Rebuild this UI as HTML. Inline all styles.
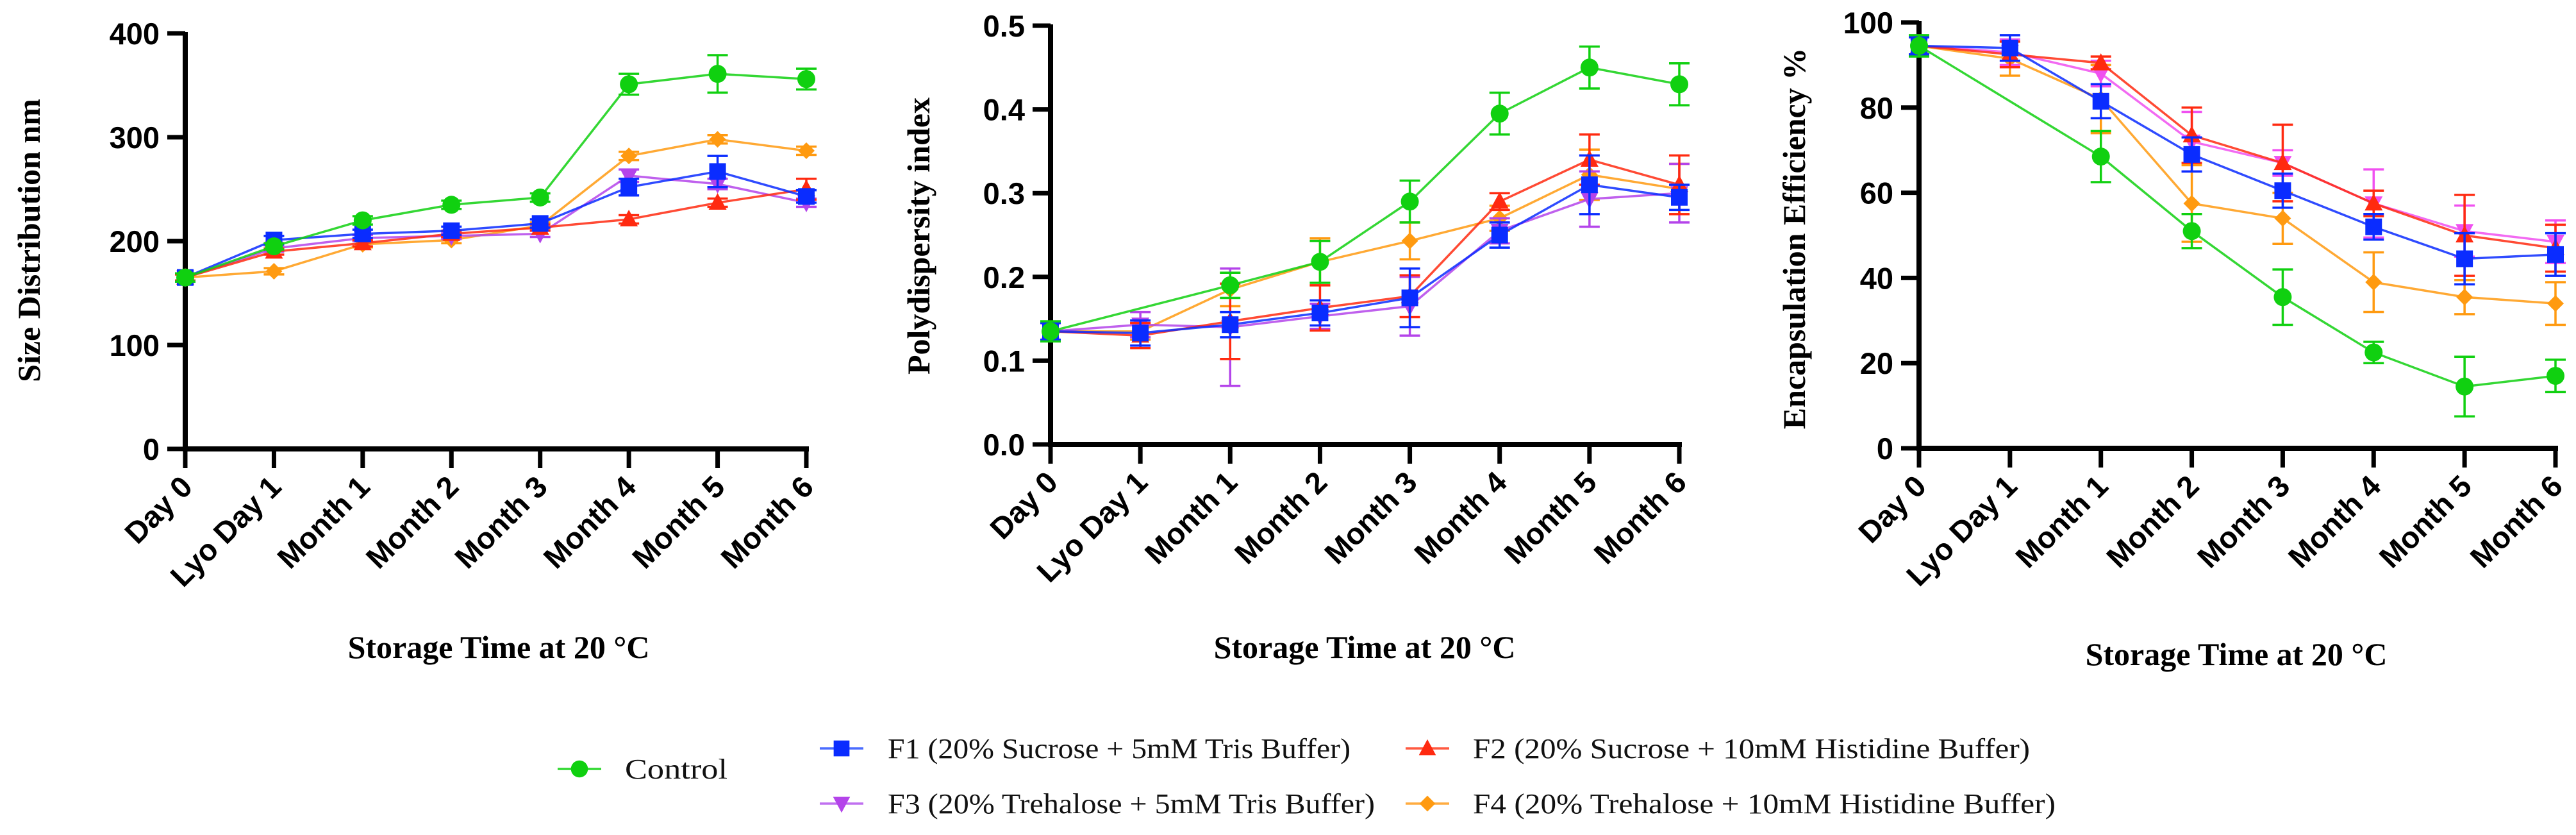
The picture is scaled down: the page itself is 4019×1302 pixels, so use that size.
<!DOCTYPE html>
<html><head><meta charset="utf-8"><style>
html,body{margin:0;padding:0;background:#fff;}
svg{display:block;}
.tick{font-family:"Liberation Sans",Arial,sans-serif;font-weight:bold;font-size:47px;fill:#000;}
.title{font-family:"Liberation Serif",serif;font-weight:bold;font-size:50px;fill:#000;}
.leg{font-family:"Liberation Serif",serif;font-size:44px;fill:#111;}
</style></head><body>
<svg id="fig" width="4019" height="1302" viewBox="0 0 4019 1302" xmlns="http://www.w3.org/2000/svg">
<g id="panels"></g>
<g id="legend"></g>
</svg>
<script>
const categories = ["Day 0","Lyo Day 1","Month 1","Month 2","Month 3","Month 4","Month 5","Month 6"];
const seriesNames = ["F4","F3","F2","F1","Control"];
// Size distribution (nm)
const sizeControl = [165,195,220,235,242,351,361,356];
const sizeControlErr = [4,3,4,4,4,10,18,10];
const sizeF1 = [165,201,207,210,217,252,267,243];
const sizeF1Err = [4,4,4,4,4,8,15,6];
const sizeF2 = [165,190,198,207,213,221,237,250];
const sizeF2Err = [3,3,3,3,3,4,4,10];
const sizeF3 = [165,193,203,205,207,263,255,237];
const sizeF3Err = [3,3,3,3,3,6,5,4];
const sizeF4 = [165,171,197,201,215,282,298,287];
const sizeF4Err = [3,3,3,3,3,4,4,4];
const sizeTicks = ["0","100","200","300","400"];
// Polydispersity index
const pdiControl = [0.135,null,0.19,0.218,0.29,0.395,0.45,0.43];
const pdiControlErr = [0.012,0,0.015,0.025,0.025,0.025,0.025,0.025];
const pdiF1 = [0.135,0.133,0.143,0.157,0.175,0.25,0.31,0.295];
const pdiF1Err = [0.01,0.015,0.015,0.015,0.035,0.015,0.035,0.015];
const pdiF2 = [0.135,0.13,0.147,0.163,0.177,0.29,0.34,0.31];
const pdiF2Err = [0.01,0.015,0.045,0.027,0.025,0.01,0.03,0.035];
const pdiF3 = [0.135,0.143,0.14,0.153,0.165,0.255,0.293,0.3];
const pdiF3Err = [0.01,0.015,0.07,0.015,0.035,0.015,0.033,0.035];
const pdiF4 = [0.135,0.135,0.185,0.218,0.243,0.27,0.322,0.305];
const pdiF4Err = [0.01,0.01,0.02,0.028,0.022,0.015,0.03,0.03];
const pdiTicks = ["0.0","0.1","0.2","0.3","0.4","0.5"];
// Encapsulation efficiency (%)
const eeControl = [94.5,null,68.5,51,35.5,22.5,14.5,17];
const eeControlErr = [2.5,0,6,4,6.5,2.5,7,3.8];
const eeF1 = [94.5,94,81.5,69,60.5,52,44.5,45.5];
const eeF1Err = [2,3,4,4,4,3,6,5];
const eeF2 = [94.5,92.5,90.5,73.5,67,57.5,50,47];
const eeF2Err = [2,3,1.5,6.5,9,3,9.5,5.5];
const eeF3 = [94.5,93,88,72,67,57.5,51,48.5];
const eeF3Err = [2,3,3,7,3,8,6,5];
const eeF4 = [94.5,91.5,82,57.5,54,39,35.5,34];
const eeF4Err = [2,4,8,9,6,7,4,5];
const eeTicks = ["0","20","40","60","80","100"];

const NS="http://www.w3.org/2000/svg";
const styles = {
  Control:{c:"#10d010",l:"#30d830",m:"circle"},
  F1:{c:"#0a2cff",l:"#4a6cff",m:"square"},
  F2:{c:"#ff2a10",l:"#ff5a40",m:"tri"},
  F3:{c:"#b444ea",l:"#c070f0",m:"tridown"},
  F4:{c:"#ff9a10",l:"#ffac40",m:"diamond"}
};
function mk(tag,attrs,parent){const e=document.createElementNS(NS,tag);for(const k in attrs)e.setAttribute(k,attrs[k]);parent.appendChild(e);return e;}
function marker(g,type,x,y,col,s){
  let e;
  if(type==="circle") e=mk("circle",{cx:x,cy:y,r:14*s,fill:col},g);
  else if(type==="square") e=mk("rect",{x:x-13*s,y:y-13*s,width:26*s,height:26*s,fill:col},g);
  else if(type==="tri") e=mk("polygon",{points:`${x},${y-15*s} ${x-14*s},${y+11*s} ${x+14*s},${y+11*s}`,fill:col},g);
  else if(type==="tridown") e=mk("polygon",{points:`${x},${y+15*s} ${x-14*s},${y-11*s} ${x+14*s},${y-11*s}`,fill:col},g);
  else e=mk("polygon",{points:`${x},${y-13*s} ${x+13*s},${y} ${x},${y+13*s} ${x-13*s},${y}`,fill:col},g);
  return e;
}
function panel(p){
  const root=document.getElementById("panels");
  const g=mk("g",{},root);
  
  
  const n=categories.length;
  const xs=i=>p.x0+(p.x1-p.x0)*i/(n-1);
  const ys=v=>p.y0-(p.y0-p.y1)*(v-p.vmin)/(p.vmax-p.vmin);
  // axes
  const ax=mk("g",{},g);
  
  
  mk("line",{x1:p.x0,y1:p.y1-2,x2:p.x0,y2:p.y0+4,stroke:"#000","stroke-width":8},ax);
  mk("line",{x1:p.x0-4,y1:p.y0,x2:p.x1+4,y2:p.y0,stroke:"#000","stroke-width":8},ax);
  p.ticks.forEach((t,i)=>{
    const v=p.vmin+(p.vmax-p.vmin)*i/(p.ticks.length-1);
    const y=ys(v);
    mk("line",{x1:p.x0-28,y1:y,x2:p.x0,y2:y,stroke:"#000","stroke-width":7},ax);
    const tx=mk("text",{x:p.x0-40,y:y+17,"text-anchor":"end",class:"tick"},ax);
    tx.textContent=t;
    
    
  });
  categories.forEach((c,i)=>{
    const x=xs(i);
    mk("line",{x1:x,y1:p.y0,x2:x,y2:p.y0+30,stroke:"#000","stroke-width":7},ax);
    const tx=mk("text",{x:0,y:0,"text-anchor":"end",class:"tick",transform:`translate(${x+14},${p.y0+62}) rotate(-45)`},ax);
    tx.textContent=c;
    
    
  });
  const yt=mk("text",{x:0,y:0,"text-anchor":"middle",class:"title",transform:`translate(${p.ytx},${p.yty}) rotate(-90)`},g);
  yt.textContent=p.ytitle;
  
  
  const xt=mk("text",{x:p.xtx,y:p.xty,"text-anchor":"middle",class:"title"},g);
  xt.textContent="Storage Time at 20 °C";
  
  
  // series
  seriesNames.forEach(name=>{
    const st=styles[name];
    const col=(name==="F3"&&p.f3col)?p.f3col:st.c;
    const vals=p.data[name][0], errs=p.data[name][1];
    const sg=mk("g",{},g);
    
    
    const pts=[];
    vals.forEach((v,i)=>{if(v!==null)pts.push(xs(i)+","+ys(v));});
    mk("polyline",{points:pts.join(" "),fill:"none",stroke:col,"stroke-width":3.5,"stroke-opacity":0.85},sg);
    vals.forEach((v,i)=>{
      if(v===null)return;
      const x=xs(i),e=errs[i];
      if(e>0){
        const a=ys(v+e),b=ys(v-e);
        mk("line",{x1:x,y1:a,x2:x,y2:b,stroke:col,"stroke-width":3.5},sg);
        mk("line",{x1:x-16,y1:a,x2:x+16,y2:a,stroke:col,"stroke-width":3.5},sg);
        mk("line",{x1:x-16,y1:b,x2:x+16,y2:b,stroke:col,"stroke-width":3.5},sg);
      }
      const m=marker(sg,st.m,x,ys(v),col,1);
      
      
    });
  });
}
panel({name:"size-distribution-chart",x0:289,x1:1258,y0:700,y1:52,vmin:0,vmax:400,ticks:sizeTicks,
  ytitle:"Size Distribution nm",ytx:62,yty:375,xtx:778,xty:1026,
  data:{Control:[sizeControl,sizeControlErr],F1:[sizeF1,sizeF1Err],F2:[sizeF2,sizeF2Err],F3:[sizeF3,sizeF3Err],F4:[sizeF4,sizeF4Err]}});
panel({name:"polydispersity-chart",x0:1639,x1:2620,y0:693,y1:40,vmin:0,vmax:0.5,ticks:pdiTicks,
  ytitle:"Polydispersity index",ytx:1450,yty:368,xtx:2129,xty:1026,
  data:{Control:[pdiControl,pdiControlErr],F1:[pdiF1,pdiF1Err],F2:[pdiF2,pdiF2Err],F3:[pdiF3,pdiF3Err],F4:[pdiF4,pdiF4Err]}});
panel({name:"encapsulation-efficiency-chart",x0:2994,x1:3987,y0:699,y1:35,vmin:0,vmax:100,ticks:eeTicks,f3col:"#f050f0",
  ytitle:"Encapsulation Efficiency %",ytx:2816,yty:372,xtx:3489,xty:1037,
  data:{Control:[eeControl,eeControlErr],F1:[eeF1,eeF1Err],F2:[eeF2,eeF2Err],F3:[eeF3,eeF3Err],F4:[eeF4,eeF4Err]}});

// legend
const legendItems=[
  {n:"Control",t:"Control",mx:904,y:1199,tx:975,w:160},
  {n:"F1",t:"F1 (20% Sucrose + 5mM Tris Buffer)",mx:1313,y:1167,tx:1385,w:722},
  {n:"F3",t:"F3 (20% Trehalose + 5mM Tris Buffer)",mx:1313,y:1253,tx:1385,w:760},
  {n:"F2",t:"F2 (20% Sucrose + 10mM Histidine Buffer)",mx:2227,y:1167,tx:2298,w:869},
  {n:"F4",t:"F4 (20% Trehalose + 10mM Histidine Buffer)",mx:2227,y:1253,tx:2298,w:909}
];
const lg=document.getElementById("legend");
legendItems.forEach(it=>{
  const st=styles[it.n];
  const g=mk("g",{},lg);
  
  
  mk("line",{x1:it.mx-34,y1:it.y,x2:it.mx+34,y2:it.y,stroke:st.l,"stroke-width":3.5},g);
  marker(g,st.m,it.mx,it.y,st.c,0.95);
  const t=mk("text",{x:it.tx,y:it.y+15,class:"leg",textLength:it.w,lengthAdjust:"spacingAndGlyphs"},g);
  t.textContent=it.t;
});
</script>
</body></html>
